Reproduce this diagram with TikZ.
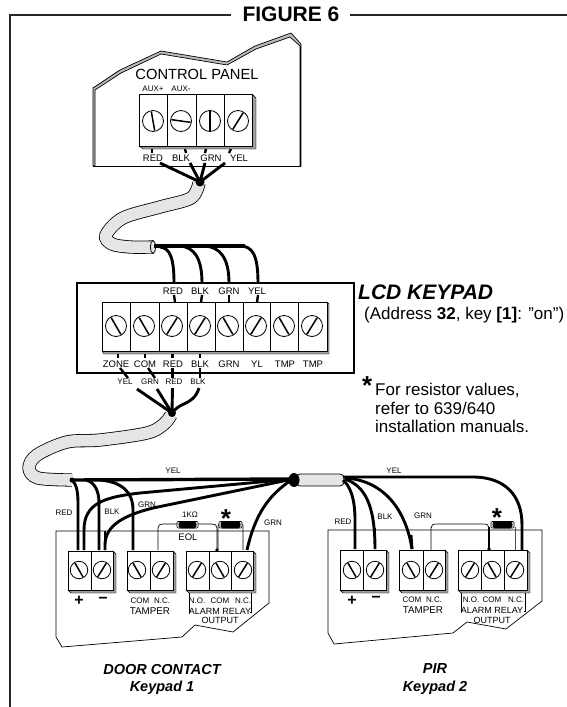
\documentclass[tikz,border=0pt]{standalone}
\usepackage{fontspec}
\setmainfont{Liberation Sans}
\usetikzlibrary{calc}
\definecolor{cablegrey}{gray}{0.9}
\definecolor{shadegrey}{gray}{0.62}
\tikzset{
  wire/.style={line width=2.9pt,black,line cap=butt},
  stub/.style={line width=2.4pt,black},
  thinw/.style={line width=0.7pt,black},
  greyw/.style={line width=0.8pt,black!70},
  frameline/.style={line width=1.4pt,black!85},
  boardline/.style={line width=0.7pt,black},
  panelbox/.style={line width=1.7pt,black},
  cable/.style={line width=0.8pt,black,double=cablegrey,double distance=11.6pt},
  blockbody/.style={draw=black,line width=0.8pt,fill=white},
  blockshade/.style={fill=shadegrey,draw=black,line width=0.4pt},
  screwc/.style={circle,draw=black,fill=white,line width=0.8pt,inner sep=0pt},
  lab/.style={inner sep=0pt,font=\fontsize{9.5}{10}\selectfont},
  smalllab/.style={inner sep=0pt,font=\fontsize{8}{9}\selectfont},
  tamperlab/.style={inner sep=0pt,font=\fontsize{9.8}{11}\selectfont},
  midlab/.style={inner sep=0pt,font=\fontsize{9}{10}\selectfont},
  title/.style={inner sep=0pt,font=\fontsize{14.5}{16}\selectfont\bfseries\itshape},
  note/.style={inner sep=0pt,anchor=west,font=\fontsize{17}{19}\selectfont},
  starlab/.style={inner sep=0pt,font=\fontsize{26}{26}\selectfont\bfseries},
  resbody/.style={draw=black,fill=black,line width=0.6pt,rounded corners=1.5pt},
  resend/.style={draw=black,fill=white,line width=0.6pt,rounded corners=1pt},
  signlab/.style={inner sep=0pt,font=\fontsize{16}{16}\selectfont\bfseries},
}
% block: x1,x2,y1,y2, shade width, shade depth, divider list
\newcommand\termblock[7]{%
  \fill[blockshade] (#2,#3) -- (#2+#5,#3+#5) -- (#2+#5,#4+#6) -- (#1+#5,#4+#6) -- (#1,#4) -- cycle;
  \draw[blockbody] (#1,#3) rectangle (#2,#4);
  \foreach \dv in {#7} {\draw[line width=0.8pt] (\dv,#3) -- (\dv,#4);}
}
% screw: name,x,y,diameter,angle
\newcommand\screwat[5]{%
  \node[screwc,minimum size=#4pt] (#1) at (#2,#3) {};
  \draw[line width=1.5pt] (#1.center) ++(#5:#4*0.46) -- ++(#5+180:#4*0.92);
}
\newcommand\resistor[4]{% x1,x2,y1,y2
  \draw[resend] (#1,#3) rectangle (#2,#4);
  \draw[resbody] (#1+2,#3) rectangle (#2-2,#4);
}
\begin{document}
\begin{tikzpicture}[x=1pt,y=-1pt]
\useasboundingbox (0,0) rectangle (567,707);
% frame
\coordinate (fbl) at (10,707); \coordinate (ftl) at (10,15); \coordinate (ftr) at (567,15);
\node[inner sep=0pt,font=\fontsize{21}{22}\selectfont\bfseries] (fig) at (291,14.5) {FIGURE 6};
\draw[frameline] (fbl) -- (ftl) -- (231,15);
\draw[frameline] (350,15) -- (ftr);

% ---- control panel
\draw[line width=0.7pt,fill=shadegrey!70] (93,166) -- (93,88) -- (120,70) -- (161,51) -- (227,62) -- (255,46) -- (291,33) -- (301,44) -- (301,166) -- (300,166)
  -- (300,46) -- (290,37) -- (256,49) -- (227,65) -- (161,54) -- (121,73) -- (95,90) -- (95,166) -- cycle;
\draw[boardline] (93,166) -- (301,166);
\node[inner sep=0pt,font=\fontsize{14.7}{16}\selectfont] (cptitle) at (197,74) {CONTROL PANEL};
\node[smalllab] (aux1) at (153,89) {AUX+};
\node[smalllab] (aux2) at (181,89) {AUX-};
\termblock{139}{252}{94}{146}{4}{3}{167,196,224}
\screwat{cs1}{153}{121}{21}{80}
\screwat{cs2}{181}{121}{21}{8}
\screwat{cs3}{210}{121}{21}{90}
\screwat{cs4}{238}{121}{21}{122}
\foreach \xx/\lbl/\nn in {153/RED/a,181/BLK/b,211/GRN/c,239/YEL/d}{\node[lab] (cl\nn) at (\xx,158) {\lbl};}
\draw[stub] (152,149) -- (152,153); \draw[stub] (185,149) -- (186,153);
\draw[stub] (206,149) -- (205,153); \draw[stub] (231,149) -- (229,153);
\coordinate (j1) at (200,182);
\draw[wire] (160,163) -- (j1);
\draw[wire] (190,163) -- (j1);
\draw[wire] (205,163) -- (j1);
\draw[wire] (225,163) -- (j1);

% ---- cable 1
\coordinate (c1end) at (153,247);
\draw[cable] plot[smooth,tension=.55] coordinates {(199,183) (191,198) (160,207) (123,218) (106,235) (112,244) (130,247) (153,247)};
\draw[line width=.8pt,fill=cablegrey] (c1end) ellipse (2.5 and 6.5);
\fill (j1) circle (4.5);

% ---- keypad wires
\coordinate (kt1) at (174,295); \coordinate (kt2) at (202,295); \coordinate (kt3) at (229,295); \coordinate (kt4) at (258,295);
\coordinate (kj) at (154,246);
\draw[wire,line width=3.6pt] (kj) -- (245,246);
\draw[wire] (160,247) .. controls (170,248) and (174,258) .. (174,283);
\draw[wire] (180,246) .. controls (194,247) and (202,258) .. (202,283);
\draw[wire] (205,246) .. controls (220,247) and (229,258) .. (229,283);
\draw[wire] (240,246) .. controls (252,246) and (258,254) .. (258,283);

% ---- keypad box
\draw[panelbox] (77,283) rectangle (354,373);
\draw[stub] (kt1) -- (175,302); \draw[stub] (kt2) -- (201,302);
\draw[stub] (kt3) -- (229,302); \draw[stub] (kt4) -- (257,302);
\termblock{102}{327}{302}{351}{2}{3}{130,159,187,215,243,270,298}
\foreach \xx/\aa/\nn in {116/60/a,144/60/b,172/122/c,200/122/d,228/60/e,256/122/f,284/60/g,312/122/h}{\screwat{ks\nn}{\xx}{326}{21}{\aa}}
\foreach \xx/\lbl/\nn in {173/RED/a,200/BLK/b,229/GRN/c,257/YEL/d}{\node[lab] (ku\nn) at (\xx,291) {\lbl};}
\foreach \xx/\lbl/\nn in {116/ZONE/a,145/COM/b,173/RED/c,200/BLK/d,229/GRN/e,257/YL/f,285/TMP/g,313/TMP/h}{\node[lab] (kd\nn) at (\xx,364) {\lbl};}
\draw[stub] (118,354) -- (118,358); \draw[stub] (145,354) -- (145,358);
\draw[stub] (172.5,354) -- (172.5,358); \draw[stub] (200,354) -- (200,358);
\draw[stub] (120,368) -- (128,378); \draw[stub] (148,368) -- (155,378);
\draw[stub] (172.5,368) -- (172.5,378); \draw[stub] (200,368) -- (200,378);
\foreach \xx/\lbl/\nn in {125/YEL/a,150/GRN/b,174/RED/c,198/BLK/d}{\node[smalllab] (ko\nn) at (\xx,382) {\lbl};}
\coordinate (j2) at (172,413);
\draw[wire] (137,389) -- (j2);
\draw[wire] (157,389) -- (j2);
\draw[wire] (172.5,388) -- (j2);
\draw[wire] (199,388) .. controls (196,398) and (190,401) .. (184,404) .. controls (179,406) and (175,409) .. (j2);

% ---- cable 2
\draw[cable] plot[smooth,tension=.55] coordinates {(171,415) (164,424) (147,433) (100,440) (67,442) (37,455) (29,468) (38,478) (72,480)};
\fill (j2) circle (4);

% ---- main run
\coordinate (hubL) at (72,480); \coordinate (hubR) at (293,479);
\draw[line width=.8pt,fill=cablegrey,rounded corners=4pt] (296,474) rectangle (344,486);
\fill (294,480) ellipse (5.5 and 7);
\fill (hubL) circle (2.5);
\draw[wire,line width=3.4pt] (hubL) -- (hubR);
\draw[wire] (hubL) .. controls (76,484) and (78,490) .. (78,503) -- (78,550);
\draw[wire] (86,480) .. controls (94,482) and (99,490) .. (99,503) -- (99,550);
\draw[wire] (100,480) .. controls (122,482) and (133,492) .. (133,510) -- (133,550);
\draw[wire] (hubR) -- (140,493) .. controls (105,497) and (84,503) .. (84,530) -- (84,550);
\draw[wire] (hubR) -- (153,508) .. controls (125,515) and (105,525) .. (105,545) -- (105,550);
\draw[wire] (hubR) .. controls (268,495) and (255,515) .. (247,550);
\node[smalllab] (yel1) at (173,471) {YEL};
\node[smalllab] (red1) at (64,513) {RED};
\node[smalllab] (blk1) at (112,512) {BLK};
\node[smalllab] (grn1) at (147,505) {GRN};
\node[smalllab] (grn2) at (273,523) {GRN};

% ---- door contact board
\draw[boardline] (56,531) -- (269,531) -- (269,603) -- (233,632) -- (195,625) -- (182,637) -- (62,647) -- (56,637) -- cycle;
\draw[wire] (78,531) -- (78,550); \draw[wire] (99,531) -- (99,550); \draw[wire] (84,531) -- (84,550);
\draw[wire] (105,531) -- (105,550); \draw[wire] (133,531) -- (133,550);
\coordinate (dcom) at (217,550);
\draw[thinw] (158,550) -- (158,528) .. controls (158,525) and (160,524) .. (163,524) -- (177,524);
\draw[thinw] (198,524) -- (212,524) .. controls (215,524) and (217,525) .. (217,528) -- (dcom);
\draw[thinw] (218,550) -- (218,528) .. controls (218,525) and (218,524) .. (220,524);
\draw[thinw] (242,524) .. controls (243,524) and (243,525) .. (243,528) -- (243,550);
\fill (dcom) circle (1.8);
\resistor{177}{198}{521.5}{528}
\resistor{219}{242}{521.5}{528}
\node[smalllab] (kohm) at (190,515) {1KΩ};
\node[lab] (eol) at (188,537) {EOL};
\node[starlab] (star1) at (226,519) {*};
\termblock{68}{113}{551}{590}{3}{3}{91}
\termblock{127}{173}{551}{590}{3}{3}{150}
\termblock{186}{253}{551}{590}{3}{3}{209,231}
\foreach \xx/\aa/\nn in {79/60/a,102/122/b,137/60/c,161/122/d,197/122/e,220/60/f,243/122/g}{\screwat{ds\nn}{\xx}{570}{17.5}{\aa}}
\node[signlab] (dplus) at (79,601) {+};
\node[signlab] (dminus) at (103,600) {−};
\node[smalllab] (d1) at (140,601) {COM};
\node[smalllab] (d2) at (162,601) {N.C.};
\node[tamperlab] (d3) at (150,611) {TAMPER};
\node[smalllab] (d4) at (197,601) {N.O.};
\node[smalllab] (d5) at (220,601) {COM};
\node[smalllab] (d6) at (243,601) {N.C.};
\node[midlab] (d7) at (220,611) {ALARM RELAY};
\node[midlab] (d8) at (220,620.5) {OUTPUT};
\draw[thinw] (189,593) -- (189,612) -- (190,612);
\draw[thinw] (251,593) -- (251,612) -- (250,612);
\node[title] (t1) at (162,670) {DOOR CONTACT};
\node[title] (t2) at (162,688) {Keypad 1};

% ---- PIR wires
\coordinate (pj) at (343,480);
\draw[wire] (343,477) -- (475,477) .. controls (505,478) and (522,495) .. (522,525) -- (522,550);
\draw[wire] (pj) .. controls (350,486) and (355,498) .. (355,520) -- (355,549);
\draw[wire] (345,479) .. controls (365,486) and (375,505) .. (375,549);
\draw[wire] (345,478) .. controls (380,480) and (405,505) .. (412,549);
\node[smalllab] (yel3) at (394,471) {YEL};
\node[smalllab] (red3) at (343,522) {RED};
\node[smalllab] (blk3) at (385,517) {BLK};
\node[smalllab] (grn3) at (423,516) {GRN};

% ---- PIR board
\draw[boardline] (328,530) -- (542,530) -- (542,601) -- (506,629) -- (467,622) -- (453,633) -- (334,644) -- (328,633) -- cycle;
\draw[wire] (355,528) -- (355,549); \draw[wire] (375,528) -- (375,549);
\draw[wire] (411,535) -- (412,549); \draw[wire] (522,528) -- (522,550);
\coordinate (pcom) at (489,549);
\draw[thinw] (431,550) -- (431,528) .. controls (431,525) and (433,524) .. (437,524) -- (483,524) .. controls (487,524) and (489,525) .. (489,528);
\draw[line width=1.4pt] (489,527) -- (pcom);
\fill (pcom) circle (1.8);
\draw[greyw] (515,527) -- (515,550);
\resistor{491}{514}{521.5}{528}
\node[starlab] (star2) at (497,518) {*};
\termblock{340}{386}{550}{590}{3}{3}{363}
\termblock{399}{445}{550}{590}{3}{3}{423}
\termblock{458}{527}{550}{590}{3}{3}{481,504}
\foreach \xx/\aa/\nn in {352/60/a,375/122/b,411/60/c,434/122/d,470/122/e,492/60/f,515/122/g}{\screwat{ps\nn}{\xx}{570}{17.5}{\aa}}
\node[signlab] (pplus) at (352,601) {+};
\node[signlab] (pminus) at (376,599) {−};
\node[smalllab] (p1) at (412,600) {COM};
\node[smalllab] (p2) at (434,600) {N.C.};
\node[tamperlab] (p3) at (423,610) {TAMPER};
\node[smalllab] (p4) at (471,600) {N.O.};
\node[smalllab] (p5) at (492,600) {COM};
\node[smalllab] (p6) at (516,600) {N.C.};
\node[midlab] (p7) at (492,610.5) {ALARM RELAY};
\node[midlab] (p8) at (492,620) {OUTPUT};
\draw[thinw] (461,593) -- (461,611) -- (462,611);
\draw[thinw] (525,593) -- (525,611) -- (524,611);
\node[title] (t3) at (435,669) {PIR};
\node[title] (t4) at (435,688) {Keypad 2};

% ---- notes
\node[inner sep=0pt,anchor=west,font=\fontsize{21}{22}\selectfont\bfseries\itshape] (lcd) at (358,292) {LCD KEYPAD};
\node[note] (addr) at (364,315) {(Address \textbf{32}, key \textbf{[1]}: "on")};
\node[starlab,anchor=west] (star3) at (362,386) {*};
\node[note] (n1) at (375,390) {For resistor values,};
\node[note] (n2) at (375,408) {refer to 639/640};
\node[note] (n3) at (375,426) {installation manuals.};
\end{tikzpicture}
\end{document}
